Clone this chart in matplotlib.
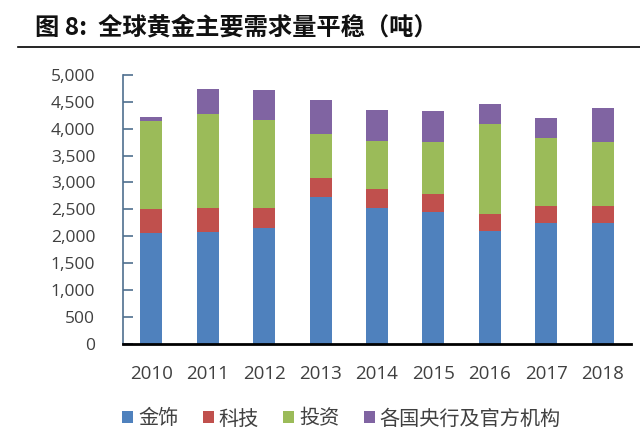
import matplotlib
matplotlib.use("Agg")
import matplotlib.pyplot as plt
from matplotlib.lines import Line2D
import numpy as np

plt.rcParams['font.family'] = ['Noto Sans CJK SC', 'DejaVu Sans']

years = ['2010', '2011', '2012', '2013', '2014', '2015', '2016', '2017', '2018']
series_names = ['金饰', '科技', '投资', '各国央行及官方机构']
jewelry = [2054, 2084, 2153, 2724, 2525, 2451, 2092, 2240, 2240]
tech = [452, 441, 372, 354, 348, 335, 327, 328, 328]
invest = [1644, 1743, 1632, 830, 904, 967, 1664, 1260, 1179]
central = [74, 477, 569, 621, 577, 577, 383, 366, 645]
colors = ['#4F81BD', '#C0504D', '#9BBB59', '#8064A2']
yticks = [0, 500, 1000, 1500, 2000, 2500, 3000, 3500, 4000, 4500, 5000]

fig = plt.figure(figsize=(6.4, 4.41), dpi=100)
ax = fig.add_axes([123/640, 1 - 343.7/441, (631 - 123)/640, (343.7 - 75)/441])

x = np.arange(len(years))
bottom = np.zeros(len(years))
for vals, c, name in zip([jewelry, tech, invest, central], colors, series_names):
    ax.bar(x, vals, width=0.39, bottom=bottom, color=c, label=name, zorder=2)
    bottom += np.array(vals)

ax.set_xlim(-0.5, len(years) - 0.5)
ax.set_ylim(0, 5000)
ax.set_yticks(yticks)
ax.set_yticklabels([f"{v:,}" for v in yticks], fontsize=12.5, color='#404040',
                   family=['Open Sans', 'DejaVu Sans'])
ax.set_xticks(x)
ax.set_xticklabels(years, fontsize=13.5, color='#404040', family=['Open Sans', 'DejaVu Sans'])
ax.tick_params(axis='x', length=0, pad=15)
ax.tick_params(axis='y', direction='in', length=7, color='#4F6F8F', width=1.2, pad=20)
for lab in ax.get_yticklabels():
    lab.set_horizontalalignment('right')
ax.spines['top'].set_visible(False)
ax.spines['right'].set_visible(False)
ax.spines['left'].set_color('#4F6F8F')
ax.spines['left'].set_linewidth(1.2)
ax.spines['bottom'].set_color('black')
ax.spines['bottom'].set_linewidth(2)

# Title
fig.text(35/640, 1 - 27/441, '图 8:  全球黄金主要需求量平稳（吨）', fontsize=17.5, fontweight='bold',
         va='center', ha='left', color='#111111')
fig.add_artist(Line2D([18/640, 1.0], [1 - 47/441, 1 - 47/441], color='black', lw=1.2))

# Legend
handles, labels = ax.get_legend_handles_labels()
fig.legend(handles, labels, loc='center left', bbox_to_anchor=(104/640, 1 - 419/441), ncol=4,
           frameon=False, fontsize=14.5, handlelength=0.55, handleheight=0.55,
           handletextpad=0.25, columnspacing=1.2, labelcolor='#404040')

fig.savefig('out.png', dpi=100)
